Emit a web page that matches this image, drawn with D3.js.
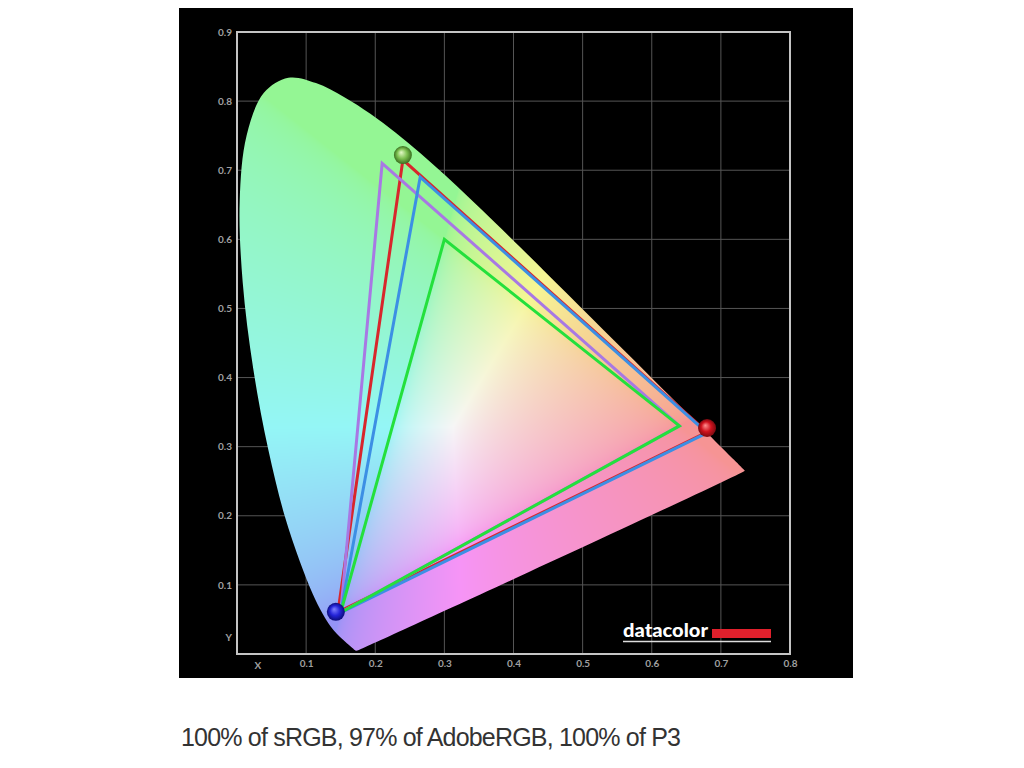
<!DOCTYPE html>
<html>
<head>
<meta charset="utf-8">
<script src="https://cdn.jsdelivr.net/npm/d3@7"></script>
<style>
  body { margin: 0; background: #fff; }
  svg { display: block; }
</style>
</head>
<body>
<svg id="chart" width="1024" height="768"></svg>
<script>
// CIE 1931 spectral locus, 380..700 nm every 5 nm
var locusX = [0.1741,0.1740,0.1738,0.1736,0.1733,0.1730,0.1726,0.1721,0.1714,0.1703,0.1689,0.1669,0.1644,0.1611,0.1566,0.1510,0.1440,0.1355,0.1241,0.1096,0.0913,0.0687,0.0454,0.0235,0.0082,0.0039,0.0139,0.0389,0.0743,0.1142,0.1547,0.1929,0.2296,0.2658,0.3016,0.3373,0.3731,0.4087,0.4441,0.4788,0.5125,0.5448,0.5752,0.6029,0.6270,0.6482,0.6658,0.6801,0.6915,0.7006,0.7079,0.7140,0.7190,0.7230,0.7260,0.7283,0.7300,0.7311,0.7320,0.7327,0.7334,0.7340,0.7344,0.7346,0.7347];
var locusY = [0.0050,0.0050,0.0049,0.0049,0.0048,0.0048,0.0048,0.0048,0.0051,0.0058,0.0069,0.0086,0.0109,0.0138,0.0177,0.0227,0.0297,0.0399,0.0578,0.0868,0.1327,0.2007,0.2950,0.4127,0.5384,0.6548,0.7502,0.8120,0.8338,0.8262,0.8059,0.7816,0.7543,0.7243,0.6923,0.6589,0.6245,0.5896,0.5547,0.5202,0.4866,0.4544,0.4242,0.3965,0.3725,0.3514,0.3340,0.3197,0.3083,0.2993,0.2920,0.2859,0.2809,0.2770,0.2740,0.2717,0.2700,0.2689,0.2680,0.2673,0.2666,0.2660,0.2656,0.2654,0.2653];

// gamut triangles: [red, green, blue] primaries (x, y)
var gamutNames = ["Display", "AdobeRGB", "P3", "sRGB"];
var gamutX = [[0.680, 0.240, 0.146], [0.64, 0.21, 0.15], [0.68, 0.265, 0.15], [0.64, 0.30, 0.15]];
var gamutY = [[0.321, 0.715, 0.0605], [0.33, 0.71, 0.06], [0.32, 0.69, 0.06], [0.33, 0.60, 0.06]];

// measured primaries (spheres)
var markerNames = ["green", "red", "blue"];
var markerX = [0.240, 0.680, 0.143];
var markerY = [0.722, 0.327, 0.061];

var xTicks = [0.1, 0.2, 0.3, 0.4, 0.5, 0.6, 0.7, 0.8];
var yTicks = [0.1, 0.2, 0.3, 0.4, 0.5, 0.6, 0.7, 0.8, 0.9];
var caption = "100% of sRGB, 97% of AdobeRGB, 100% of P3";

var svg = d3.select("#chart");
var x = d3.scaleLinear().domain([0, 0.8]).range([237, 790]),
    y = d3.scaleLinear().domain([0, 0.9]).range([654, 32]);

svg.append("rect").attr("x", 179).attr("y", 8).attr("width", 674).attr("height", 670).attr("fill", "#000");

//// grid
svg.append("g").selectAll("line").data(xTicks.slice(0, -1)).enter().append("line")
  .attr("x1", function(d) { return x(d); }).attr("x2", function(d) { return x(d); })
  .attr("y1", y(0)).attr("y2", y(0.9))
  .attr("stroke", "#555").attr("stroke-width", 1);
svg.append("g").selectAll("line").data(yTicks.slice(0, -1)).enter().append("line")
  .attr("y1", function(d) { return y(d); }).attr("y2", function(d) { return y(d); })
  .attr("x1", x(0)).attr("x2", x(0.8))
  .attr("stroke", "#555").attr("stroke-width", 1);

//// horseshoe fill, rendered to a canvas then clipped by the locus
var w = Math.round(x(0.8) - x(0)), h = Math.round(y(0) - y(0.9));
var canvas = document.createElement("canvas");
canvas.width = w; canvas.height = h;
var ctx = canvas.getContext("2d");
var img = ctx.createImageData(w, h);
function gam(c) { return c <= 0.0031308 ? 12.92 * c : 1.055 * Math.pow(c, 1 / 2.4) - 0.055; }
for (var j = 0; j < h; j++) {
  for (var i = 0; i < w; i++) {
    var cx = x.invert(x(0) + i + 0.5), cy = y.invert(y(0.9) + j + 0.5);
    if (cy < 0.002) cy = 0.002;
    var X = cx / cy, Z = (1 - cx - cy) / cy;
    var r = 3.2406 * X - 1.5372 - 0.4986 * Z,
        g = -0.9689 * X + 1.8758 + 0.0415 * Z,
        b = 0.0557 * X - 0.2040 + 1.0570 * Z;
    r = Math.max(r, 0); g = Math.max(g, 0); b = Math.max(b, 0);
    var m = Math.max(r, g, b, 1e-6);
    var k = (j * w + i) * 4;
    var rgb = [r / m, g / m, b / m].map(function(c) { return 246 * (0.6 + 0.4 * gam(c)); });
    img.data[k] = rgb[0]; img.data[k + 1] = rgb[1]; img.data[k + 2] = rgb[2]; img.data[k + 3] = 255;
  }
}
ctx.putImageData(img, 0, 0);

var locus = locusX.map(function(d, i) { return [d, locusY[i]]; });
var smooth = d3.line().x(function(d) { return x(d[0]); }).y(function(d) { return y(d[1]); }).curve(d3.curveCatmullRomClosed.alpha(0.5));
var line = d3.line().x(function(d) { return x(d[0]); }).y(function(d) { return y(d[1]); }).curve(d3.curveLinearClosed);
svg.append("clipPath").attr("id", "locusClip").append("path").attr("d", smooth(locus));
svg.append("image").attr("href", canvas.toDataURL())
  .attr("x", x(0)).attr("y", y(0.9)).attr("width", w).attr("height", h)
  .attr("clip-path", "url(#locusClip)");

//// frame
svg.append("rect").attr("x", x(0)).attr("y", y(0.9)).attr("width", x(0.8) - x(0)).attr("height", y(0) - y(0.9))
  .attr("fill", "none").attr("stroke", "#c4c4c4").attr("stroke-width", 2);

//// axes
var yAxis = svg.append("g").attr("transform", "translate(" + x(0) + ",0)")
  .call(d3.axisLeft(y).tickValues(yTicks).tickSize(0).tickPadding(5).tickFormat(d3.format(".1f")));
var xAxis = svg.append("g").attr("transform", "translate(0," + y(0) + ")")
  .call(d3.axisBottom(x).tickValues(xTicks).tickSize(0).tickPadding(6).tickFormat(d3.format(".1f")));
[yAxis, xAxis].forEach(function(a) {
  a.select(".domain").remove();
  a.selectAll("text").attr("fill", "#a0a0a0").style("font", "bold 10px Lato, sans-serif");
});
svg.append("text").attr("x", x(0.03)).attr("y", y(0) + 15).attr("text-anchor", "middle")
  .attr("fill", "#a0a0a0").style("font", "bold 10px Lato, sans-serif").text("X");
svg.append("text").attr("x", x(0) - 5).attr("y", y(0.025) + 4).attr("text-anchor", "end")
  .attr("fill", "#a0a0a0").style("font", "bold 10px Lato, sans-serif").text("Y");

//// gamut triangles
var gamutColors = ["#d8262c", "#a878e4", "#3c8fe4", "#24e03c"];
gamutNames.forEach(function(name, gi) {
  var pts = gamutX[gi].map(function(d, i) { return [d, gamutY[gi][i]]; });
  svg.append("path").attr("class", "gamut " + name)
    .attr("d", line(pts)).attr("fill", "none")
    .attr("stroke", gamutColors[gi]).attr("stroke-width", 3).attr("stroke-linejoin", "miter");
});

//// spheres
var defs = svg.append("defs");
var sphereColors = { green: ["#e4fac8", "#7cc050", "#3a6e20"], red: ["#ff9090", "#d0121e", "#7a0a10"], blue: ["#8080ff", "#2424d8", "#0c0c7a"] };
markerNames.forEach(function(n) {
  var gr = defs.append("radialGradient").attr("id", "sph-" + n).attr("cx", "50%").attr("cy", "50%").attr("r", "50%")
    .attr("fx", "40%").attr("fy", "35%");
  gr.append("stop").attr("offset", "0%").attr("stop-color", sphereColors[n][0]);
  gr.append("stop").attr("offset", "55%").attr("stop-color", sphereColors[n][1]);
  gr.append("stop").attr("offset", "100%").attr("stop-color", sphereColors[n][2]);
});
svg.append("g").selectAll("circle").data(markerNames).enter().append("circle")
  .attr("cx", function(d, i) { return x(markerX[i]); })
  .attr("cy", function(d, i) { return y(markerY[i]); })
  .attr("r", 9)
  .attr("fill", function(d) { return "url(#sph-" + d + ")"; });

//// datacolor logo
svg.append("text").attr("x", 623).attr("y", 637).attr("textLength", 85).attr("lengthAdjust", "spacingAndGlyphs")
  .attr("fill", "#fff").style("font", "900 18px Lato, sans-serif").text("datacolor");
svg.append("rect").attr("x", 712).attr("y", 629).attr("width", 59).attr("height", 9).attr("fill", "#e0202c");
svg.append("line").attr("x1", 623).attr("x2", 771).attr("y1", 641.5).attr("y2", 641.5)
  .attr("stroke", "#ddd").attr("stroke-width", 1.5);

//// caption
svg.append("text").attr("x", 181).attr("y", 746).attr("textLength", 500)
  .attr("fill", "#333").style("font", "25px 'Liberation Sans', Arial, sans-serif").text(caption);
</script>
</body>
</html>
